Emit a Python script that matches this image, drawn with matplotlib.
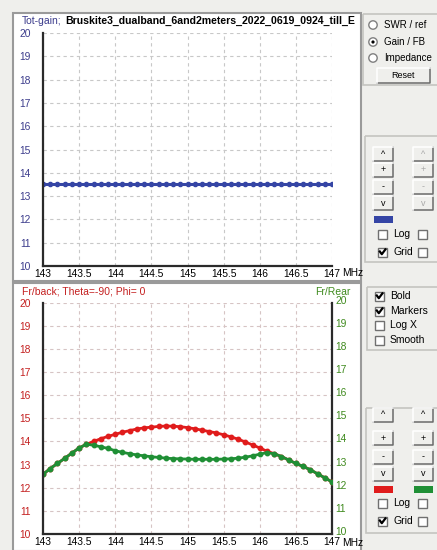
import matplotlib
matplotlib.use("Agg")
import matplotlib.pyplot as plt
from matplotlib.patches import Rectangle, Circle
from matplotlib.transforms import ScaledTranslation

plt.rcParams['font.family'] = ['Liberation Sans', 'DejaVu Sans']

# ------------------------------- data ----------------------------------------
freq = [143.0, 143.1, 143.2, 143.3, 143.4, 143.5, 143.6, 143.7, 143.8, 143.9,
        144.0, 144.1, 144.2, 144.3, 144.4, 144.5, 144.6, 144.7, 144.8, 144.9,
        145.0, 145.1, 145.2, 145.3, 145.4, 145.5, 145.6, 145.7, 145.8, 145.9,
        146.0, 146.1, 146.2, 146.3, 146.4, 146.5, 146.6, 146.7, 146.8, 146.9,
        147.0]

tot_gain = [13.5] * 41

fr_back = [12.58, 12.83, 13.05, 13.27, 13.50, 13.72, 13.88, 14.00, 14.12, 14.22,
           14.31, 14.40, 14.47, 14.54, 14.59, 14.62, 14.65, 14.67, 14.66, 14.64,
           14.60, 14.55, 14.49, 14.43, 14.37, 14.29, 14.20, 14.10, 13.98, 13.85,
           13.72, 13.58, 13.47, 13.35, 13.20, 13.05, 12.92, 12.78, 12.60, 12.43,
           12.25]

fr_rear = [12.58, 12.83, 13.05, 13.27, 13.50, 13.72, 13.88, 13.84, 13.77, 13.70,
           13.60, 13.53, 13.47, 13.42, 13.38, 13.34, 13.31, 13.28, 13.26, 13.25,
           13.24, 13.23, 13.23, 13.23, 13.23, 13.24, 13.25, 13.28, 13.32, 13.38,
           13.45, 13.52, 13.47, 13.35, 13.20, 13.05, 12.92, 12.78, 12.60, 12.43,
           12.25]

x_ticks = [143, 143.5, 144, 144.5, 145, 145.5, 146, 146.5, 147]
x_labels = ['143', '143.5', '144', '144.5', '145', '145.5', '146', '146.5', '147']
y_ticks = list(range(10, 21))

BLUE = '#3545a5'
RED = '#e01c1c'
GREEN = '#1f8f35'
NAVY = '#3c3c8c'
DKRED = '#c42020'
DKGREEN = '#3f8a1e'
BG = '#efefec'

W, H = 437, 550
fig = plt.figure(figsize=(W / 100, H / 100), dpi=100, facecolor=BG)

# background layer in pixel coordinates (y grows downwards)
bg = fig.add_axes([0, 0, 1, 1], zorder=0)
bg.set_xlim(0, W)
bg.set_ylim(H, 0)
bg.axis('off')


def ax_rect(x0, y0, x1, y1):
    return [x0 / W, 1 - y1 / H, (x1 - x0) / W, (y1 - y0) / H]


# white plot panels
bg.add_patch(Rectangle((13, 13), 348, 268, facecolor='white', edgecolor='#9a9a9a', lw=1.5))
bg.add_patch(Rectangle((13, 283), 348, 268, facecolor='white', edgecolor='#9a9a9a', lw=1.5))


def group_box(x0, y0, x1, y1):
    bg.add_patch(Rectangle((x0, y0), x1 - x0, y1 - y0, facecolor='none',
                           edgecolor='#c4c4c0', lw=1.2))


def button(cx, cy, label, enabled=True, w=20, h=14):
    x0, y0 = cx - w / 2, cy - h / 2
    bg.plot([x0, x0 + w, x0 + w], [y0 + h, y0 + h, y0], color='#6a6a6a', lw=1.1)
    bg.plot([x0, x0, x0 + w], [y0 + h, y0, y0], color='white', lw=1.1)
    bg.text(cx, cy, label, fontsize=6.5, ha='center', va='center',
            color='black' if enabled else '#a8a8a8')


def checkbox(x, cy, checked=False):
    bg.add_patch(Rectangle((x, cy - 4.5), 9, 9, facecolor='white', edgecolor='#707070', lw=1))
    if checked:
        bg.plot([x + 1.8, x + 3.8, x + 7.4], [cy - 0.5, cy + 2.2, cy - 2.6], color='black', lw=1.6)


def radio(x, cy, selected=False):
    bg.add_patch(Circle((x, cy), 4.2, facecolor='white', edgecolor='#808080', lw=1))
    if selected:
        bg.add_patch(Circle((x, cy), 1.6, facecolor='black', edgecolor='none'))


# radio group
group_box(363, 14, 440, 85)
for cy, txt, sel in [(25, 'SWR / ref', False), (42, 'Gain / FB', True), (58, 'Impedance', False)]:
    radio(373, cy, sel)
    bg.text(384, cy, txt, fontsize=7, va='center')
button(403, 75, 'Reset', w=53, h=15)

# controls of the gain plot
group_box(365, 136, 440, 262)
for cy, lab in [(154, '^'), (169.5, '+'), (186.5, '-'), (203, 'v')]:
    button(383, cy, lab)
    button(423, cy, lab, enabled=False)
bg.add_patch(Rectangle((374, 216), 19, 7, facecolor=BLUE, edgecolor='none'))
checkbox(378, 234)
bg.text(393, 234, 'Log', fontsize=7.5, va='center')
checkbox(418, 234)
checkbox(378, 252, True)
bg.text(393, 252, 'Grid', fontsize=7.5, va='center')
checkbox(418, 252)

# display options
group_box(367, 287, 440, 350)
for cy, txt, chk in [(296, 'Bold', True), (311, 'Markers', True), (325.5, 'Log X', False), (340, 'Smooth', False)]:
    checkbox(375, cy, chk)
    bg.text(390, cy, txt, fontsize=7.5, va='center')

# controls of the front/back plot
group_box(366, 408, 440, 533)
for cy, lab in [(415, '^'), (438, '+'), (456.5, '-'), (474, 'v')]:
    button(383, cy, lab)
    button(423, cy, lab)
bg.add_patch(Rectangle((374, 486), 19, 7, facecolor=RED, edgecolor='none'))
bg.add_patch(Rectangle((414, 486), 19, 7, facecolor=GREEN, edgecolor='none'))
checkbox(378, 503)
bg.text(393, 503, 'Log', fontsize=7.5, va='center')
checkbox(418, 503)
checkbox(378, 521, True)
bg.text(393, 521, 'Grid', fontsize=7.5, va='center')
checkbox(418, 521)

# titles
bg.text(22, 20.5, 'Tot-gain;', fontsize=7.5, color=NAVY, va='center')
bg.text(65, 20.5, 'Bruskite3_dualband_6and2meters_2022_0619_0924_till_E',
        fontsize=7.6, fontweight='bold', color='black', va='center')
bg.text(22, 292, 'Fr/back; Theta=-90; Phi= 0', fontsize=7.5, color=DKRED, va='center')
bg.text(350, 292, 'Fr/Rear', fontsize=7.5, color=DKGREEN, va='center', ha='right')
bg.text(342, 272.5, 'MHz', fontsize=7.4, va='center')
bg.text(342, 542.5, 'MHz', fontsize=7.4, va='center')


def style_axes(ax, tick_color, grid_color):
    ax.set_xlim(143, 147)
    ax.set_ylim(10, 20)
    ax.set_xticks(x_ticks)
    ax.set_xticklabels(x_labels)
    ax.set_yticks(y_ticks)
    ax.tick_params(axis='both', length=0, labelsize=7.4)
    ax.tick_params(axis='x', pad=2.5, colors='black')
    ax.tick_params(axis='y', pad=9, labelcolor=tick_color)
    ax.grid(True, color=grid_color, lw=0.8, ls=(0, (3, 3)))
    for side in ['top', 'right']:
        ax.spines[side].set_visible(False)
    for side in ['left', 'bottom']:
        ax.spines[side].set_color('#2a2a2a')
        ax.spines[side].set_linewidth(1.6)
        ax.spines[side].set_zorder(5)


# ----- Plot total gain -----
ax1 = fig.add_axes(ax_rect(43, 33, 332, 266), zorder=1)
ax1.set_facecolor('none')
style_axes(ax1, NAVY, '#c8c8c8')
ax1.plot(freq, tot_gain, color=BLUE, lw=2.2, marker='o', ms=3, zorder=3)

# ----- Plot front/back and front/rear -----
ax2 = fig.add_axes(ax_rect(43, 302.7, 332, 534), zorder=1)
ax2.set_facecolor('none')
style_axes(ax2, DKRED, '#d6c4c4')
ax2.spines['right'].set_visible(True)
ax2.spines['right'].set_color('#2a2a2a')
ax2.spines['right'].set_linewidth(1.6)
ax2.plot(freq, fr_back, color=RED, lw=2, marker='o', ms=3.2, zorder=3)
ax2.plot(freq, fr_rear, color=GREEN, lw=2, marker='o', ms=3.2, zorder=4)

ax2r = ax2.twinx()
ax2r.set_ylim(10, 20)
ax2r.set_yticks(y_ticks)
ax2r.tick_params(axis='y', length=0, pad=2.5, labelsize=7.4, labelcolor=DKGREEN)
for side in ['top', 'left', 'bottom', 'right']:
    ax2r.spines[side].set_visible(False)

# right-hand labels sit a little above their grid lines
lift = ScaledTranslation(0, 3 / 100, fig.dpi_scale_trans)
for lbl in ax2r.get_yticklabels():
    lbl.set_transform(lbl.get_transform() + lift)

fig.savefig('out.png', dpi=100, facecolor=BG)
